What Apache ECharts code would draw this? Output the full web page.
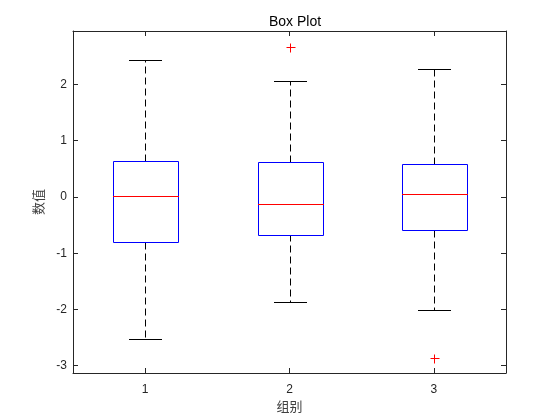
<!DOCTYPE html>
<html>
<head>
<meta charset="utf-8">
<script src="https://cdn.jsdelivr.net/npm/echarts@6/dist/echarts.min.js"></script>
<style>
  html, body { margin: 0; padding: 0; background: #fff; }
  #chart { width: 560px; height: 420px; }
</style>
</head>
<body>
<div id="chart"></div>
<script>
// box plot stats per group
var groups = [1, 2, 3];
var lowerWhisker = [-2.52, -1.86, -2.01];
var q1 = [-0.80, -0.66, -0.585];
var medians = [0.01, -0.12, 0.05];
var q3 = [0.64, 0.63, 0.59];
var upperWhisker = [2.43, 2.06, 2.27];
var outliers = [[2, 2.67], [3, -2.87]];
var yTicks = [-3, -2, -1, 0, 1, 2];

var font = 'Liberation Sans, Arial, Noto Sans CJK SC, sans-serif';
var axisColor = '#262626';

var boxData = groups.map(function (g, i) {
  return [g, lowerWhisker[i], q1[i], medians[i], q3[i], upperWhisker[i]];
});

function px(v) { return Math.round(v) + 0.5; }

function renderBox(params, api) {
  var x = api.value(0);
  var pLow = api.coord([x, api.value(1)]);
  var pQ1 = api.coord([x, api.value(2)]);
  var pMed = api.coord([x, api.value(3)]);
  var pQ3 = api.coord([x, api.value(4)]);
  var pHigh = api.coord([x, api.value(5)]);
  var bw = api.size([0.225, 0])[0];
  var cw = api.size([0.1125, 0])[0];
  var cx = px(pMed[0]);
  var line = function (x1, y1, x2, y2, style) {
    return { type: 'line', shape: { x1: x1, y1: y1, x2: x2, y2: y2 }, style: style };
  };
  var dashed = { stroke: '#000', lineWidth: 1, lineDash: [7, 4] };
  var solid = { stroke: '#000', lineWidth: 1 };
  return {
    type: 'group',
    children: [
      line(cx, px(pQ3[1]), cx, px(pHigh[1]), dashed),
      line(cx, px(pQ1[1]), cx, px(pLow[1]), dashed),
      line(Math.round(cx - cw), px(pHigh[1]), Math.round(cx + cw), px(pHigh[1]), solid),
      line(Math.round(cx - cw), px(pLow[1]), Math.round(cx + cw), px(pLow[1]), solid),
      {
        type: 'rect',
        shape: { x: px(cx - bw), y: px(pQ3[1]), width: Math.round(bw * 2), height: Math.round(pQ1[1] - pQ3[1]) },
        style: { fill: '#fff', stroke: '#0000ff', lineWidth: 1 }
      },
      line(Math.round(cx - bw), px(pMed[1]), Math.round(cx + bw) + 1, px(pMed[1]), { stroke: '#ff0000', lineWidth: 1 })
    ]
  };
}

function renderPlus(params, api) {
  var p = api.coord([api.value(0), api.value(1)]);
  var x = px(p[0]), y = px(p[1]), r = 4;
  var st = { stroke: '#ff0000', lineWidth: 1 };
  return {
    type: 'group',
    children: [
      { type: 'line', shape: { x1: x - r, y1: y, x2: x + r + 1, y2: y }, style: st },
      { type: 'line', shape: { x1: x, y1: y - r, x2: x, y2: y + r + 1 }, style: st }
    ]
  };
}

var chart = echarts.init(document.getElementById('chart'));
chart.setOption({
  animation: false,
  title: {
    text: 'Box Plot',
    left: 290,
    textAlign: 'center',
    top: 10,
    textStyle: { fontFamily: font, fontSize: 14, fontWeight: 'normal', color: '#000' }
  },
  grid: { left: 73, right: 54, top: 31, bottom: 47 },
  xAxis: [{
    type: 'value',
    min: 0.5,
    max: 3.5,
    name: '组别',
    nameLocation: 'middle',
    nameGap: 27,
    nameTextStyle: { fontFamily: font, fontSize: 13, color: '#404040' },
    axisLine: { onZero: false, lineStyle: { color: axisColor } },
    axisTick: { inside: true, length: 5, customValues: groups, lineStyle: { color: axisColor } },
    axisLabel: { customValues: groups, fontFamily: font, fontSize: 12, color: axisColor, margin: 11 },
    splitLine: { show: false }
  }, {
    type: 'value',
    position: 'top',
    min: 0.5,
    max: 3.5,
    axisLine: { onZero: false, lineStyle: { color: axisColor } },
    axisTick: { inside: true, length: 5, customValues: groups, lineStyle: { color: axisColor } },
    axisLabel: { show: false },
    splitLine: { show: false }
  }],
  yAxis: [{
    type: 'value',
    min: -3.13,
    max: 2.95,
    name: '数值',
    nameLocation: 'middle',
    nameGap: 24,
    nameRotate: 90,
    nameTextStyle: { fontFamily: font, fontSize: 13, color: '#404040' },
    axisLine: { show: true, onZero: false, lineStyle: { color: axisColor } },
    axisTick: { show: true, inside: true, length: 5, customValues: yTicks, lineStyle: { color: axisColor } },
    axisLabel: { customValues: yTicks, fontFamily: font, fontSize: 12, color: axisColor, margin: 6 },
    splitLine: { show: false }
  }, {
    type: 'value',
    position: 'right',
    min: -3.13,
    max: 2.95,
    axisLine: { show: true, onZero: false, lineStyle: { color: axisColor } },
    axisTick: { show: true, inside: true, length: 5, customValues: yTicks, lineStyle: { color: axisColor } },
    axisLabel: { show: false },
    splitLine: { show: false }
  }],
  series: [{
    type: 'custom',
    xAxisIndex: 0,
    yAxisIndex: 0,
    renderItem: renderBox,
    data: boxData,
    silent: true
  }, {
    type: 'custom',
    xAxisIndex: 0,
    yAxisIndex: 0,
    renderItem: renderPlus,
    data: outliers,
    silent: true
  }]
});
</script>
</body>
</html>
